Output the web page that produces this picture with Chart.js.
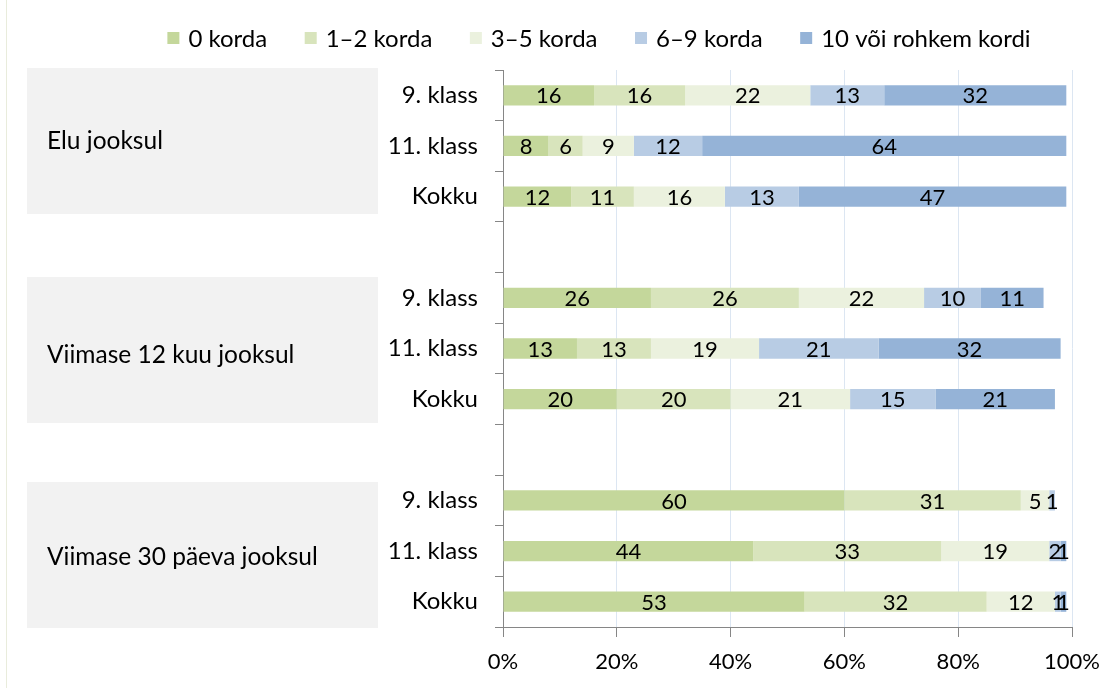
<!DOCTYPE html>
<html>
<head>
<meta charset="utf-8">
<script src="https://cdn.jsdelivr.net/npm/chart.js@4/dist/chart.umd.min.js"></script>
<style>
  html, body { margin: 0; padding: 0; background: #fff; }
  #wrap { width: 1118px; height: 688px; }
</style>
</head>
<body>
<div id="wrap"><canvas id="c" width="1118" height="688"></canvas></div>
<script>
// Rows of the chart (empty strings are spacer rows between the groups)
const categories = ['9. klass', '11. klass', 'Kokku', '', '9. klass', '11. klass', 'Kokku', '', '9. klass', '11. klass', 'Kokku'];
const groupNames = ['Elu jooksul', 'Viimase 12 kuu jooksul', 'Viimase 30 päeva jooksul'];
const seriesNames = ['0 korda', '1–2 korda', '3–5 korda', '6–9 korda', '10 või rohkem kordi'];
const seriesColors = ['#c4d79b', '#d8e4bc', '#ebf1de', '#b8cce4', '#95b3d7'];

// Shares in percent, one value per row
const korda0     = [16,  8, 12, null, 26, 13, 20, null, 60, 44, 53];
const korda1to2  = [16,  6, 11, null, 26, 13, 20, null, 31, 33, 32];
const korda3to5  = [22,  9, 16, null, 22, 19, 21, null,  5, 19, 12];
const korda6to9  = [13, 12, 13, null, 10, 21, 15, null,  1,  2,  1];
const korda10up  = [32, 64, 47, null, 11, 32, 21, null,  0,  1,  1];

const tickLabels = ['0%', '20%', '40%', '60%', '80%', '100%'];

const FONT = 'Lato, "Open Sans", sans-serif';
const seriesValues = [korda0, korda1to2, korda3to5, korda6to9, korda10up];

const datasets = seriesNames.map((name, i) => ({
  label: name,
  data: seriesValues[i],
  backgroundColor: seriesColors[i],
  borderWidth: 0,
  categoryPercentage: 1,
  barPercentage: 0.4
}));

// Background, side panels with group names, and the left rule
const panelsPlugin = {
  id: 'panels',
  beforeDraw(chart) {
    const ctx = chart.ctx;
    ctx.save();
    ctx.fillStyle = '#ffffff';
    ctx.fillRect(0, 0, chart.width, chart.height);
    ctx.strokeStyle = '#e9ecdc';
    ctx.lineWidth = 1;
    ctx.beginPath();
    ctx.moveTo(6.5, 0);
    ctx.lineTo(6.5, chart.height);
    ctx.stroke();
    const panels = [
      { top: 68, text: 141 },
      { top: 277, text: 355 },
      { top: 482, text: 557 }
    ];
    panels.forEach((p, i) => {
      ctx.fillStyle = '#f2f2f2';
      ctx.fillRect(27, p.top, 351, 146);
      ctx.fillStyle = '#000000';
      ctx.font = '24.5px ' + FONT;
      ctx.textAlign = 'left';
      ctx.textBaseline = 'middle';
      ctx.fillText(groupNames[i], 47, p.text);
    });
    ctx.restore();
  }
};

// Value labels centred in every segment
const valueLabels = {
  id: 'valueLabels',
  afterDatasetsDraw(chart) {
    const ctx = chart.ctx;
    ctx.save();
    ctx.font = '22px ' + FONT;
    ctx.fillStyle = '#000000';
    ctx.textAlign = 'center';
    ctx.textBaseline = 'middle';
    chart.data.datasets.forEach((ds, di) => {
      const meta = chart.getDatasetMeta(di);
      meta.data.forEach((bar, j) => {
        const v = ds.data[j];
        if (v === null || v === 0) return;
        ctx.fillText(String(v), (bar.x + bar.base) / 2, bar.y + 1);
      });
    });
    ctx.restore();
  }
};

// Legend row across the top
const legendRow = {
  id: 'legendRow',
  afterDraw(chart) {
    const ctx = chart.ctx;
    ctx.save();
    ctx.font = '24px ' + FONT;
    ctx.textBaseline = 'middle';
    ctx.textAlign = 'left';
    const box = 12, gap = 9, spacing = 37.5, cy = 38;
    const widths = chart.data.datasets.map(ds => ctx.measureText(ds.label).width);
    const total = widths.reduce((a, w) => a + box + gap + w, 0) + spacing * (widths.length - 1);
    let x = 599 - total / 2;
    chart.data.datasets.forEach((ds, i) => {
      ctx.fillStyle = ds.backgroundColor;
      ctx.fillRect(x, cy - box / 2, box, box);
      ctx.fillStyle = '#000000';
      ctx.fillText(ds.label, x + box + gap, cy + 1);
      x += box + gap + widths[i] + spacing;
    });
    ctx.restore();
  }
};

new Chart(document.getElementById('c'), {
  type: 'bar',
  data: { labels: categories, datasets },
  options: {
    indexAxis: 'y',
    responsive: false,
    animation: false,
    devicePixelRatio: 1,
    layout: { padding: { left: 0, right: 46, top: 70, bottom: 0 } },
    plugins: {
      legend: { display: false },
      tooltip: { enabled: false }
    },
    scales: {
      x: {
        stacked: true,
        min: 0,
        max: 100,
        ticks: {
          stepSize: 20,
          padding: 12,
          color: '#000000',
          font: { family: FONT, size: 22 },
          callback: (v, i) => tickLabels[i]
        },
        grid: {
          color: ctx => ctx.index === 0 ? 'rgba(0,0,0,0)' : '#dce6f2',
          tickColor: '#868686',
          tickLength: 10,
          drawTicks: true
        },
        border: { color: '#868686', width: 1 },
        afterFit: s => { s.height = 61; }
      },
      y: {
        stacked: true,
        ticks: {
          padding: 17,
          color: '#000000',
          font: { family: FONT, size: 24 }
        },
        grid: {
          offset: true,
          drawOnChartArea: false,
          tickLength: 8,
          color: '#868686',
          tickColor: '#868686'
        },
        border: { color: '#868686', width: 1 },
        afterFit: s => { s.width = 503; }
      }
    }
  },
  plugins: [panelsPlugin, valueLabels, legendRow]
});
</script>
</body>
</html>
